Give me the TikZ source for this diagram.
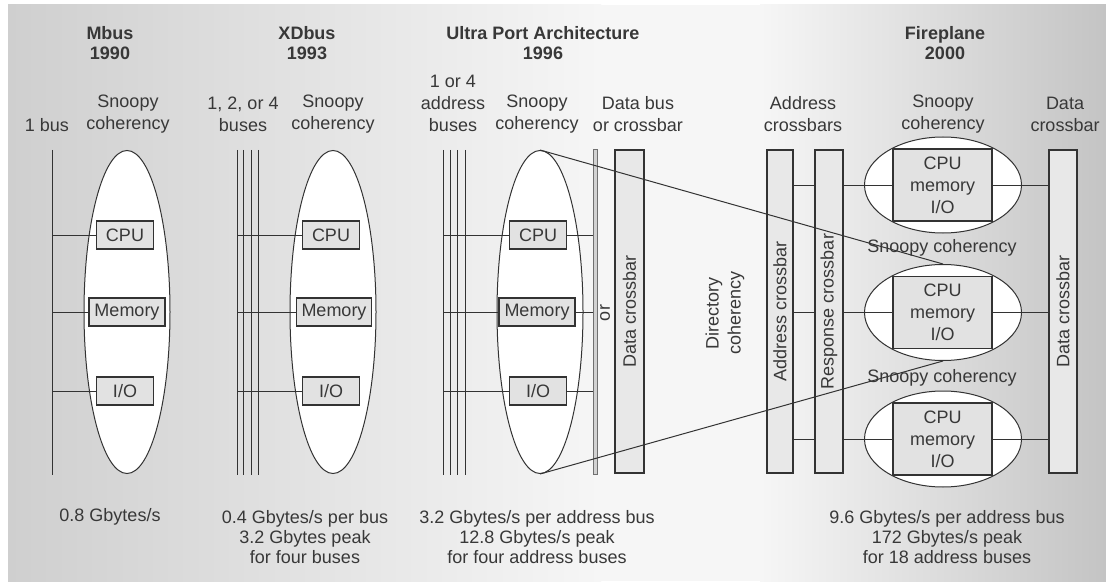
\documentclass[tikz,border=0pt]{standalone}
\usepackage{fontspec}
\setmainfont{Liberation Sans}
\usetikzlibrary{shapes.geometric}
\definecolor{ink}{HTML}{333333}
\definecolor{txt}{HTML}{383838}
\definecolor{boxfill}{HTML}{E2E2E2}
\definecolor{barfill}{HTML}{E8E8E8}
\definecolor{bgL}{HTML}{CFCFCF}
\definecolor{bgM}{HTML}{F6F6F6}
\definecolor{bgR}{HTML}{C4C4C4}
\begin{document}
\begin{tikzpicture}[x=1pt,y=-1pt,
  every node/.style={text=txt, font=\fontsize{18}{22}\selectfont, inner sep=0pt},
  lbl/.style={align=center},
  ttl/.style={align=center, font=\bfseries\fontsize{18}{20}\selectfont},
  snoop/.style={ellipse, draw=ink, fill=white, line width=1pt, minimum width=86pt, minimum height=323pt},
  fsnoop/.style={ellipse, draw=ink, fill=white, line width=1pt, minimum width=157pt, minimum height=96pt},
  unitbox/.style={draw=ink, fill=boxfill, line width=1.3pt, minimum height=28pt},
  nodebox/.style={draw=ink, fill=boxfill, line width=1.3pt, minimum width=99pt, minimum height=72pt, align=center},
  xbar/.style={draw=ink, fill=barfill, line width=1.3pt, minimum height=323pt},
  wire/.style={draw=ink, line width=1pt},
]
\useasboundingbox (0,0) rectangle (1106,583);
% background
\fill[white] (0,0) rectangle (1106,583);
\shade[left color=bgL, right color=bgM] (8,5) rectangle (601,581);
\fill[bgM] (600,5) rectangle (761,581);
\shade[left color=bgM, right color=bgR] (760,5) rectangle (1106,581);

% ---------------- Mbus
\coordinate (b1t) at (52,150); \coordinate (b1b) at (52,475);
\draw[wire] (b1t) -- (b1b);
\node[snoop] (e1) at (127,312) {};
\node[unitbox, minimum width=57pt] (cpu1) at (125,235) {CPU};
\node[unitbox, minimum width=76pt] (mem1) at (127,312) {Memory};
\node[unitbox, minimum width=57pt] (io1) at (125,391) {I/O};
\foreach \n in {cpu1,mem1,io1} \draw[wire] (b1t |- \n.west) -- (\n.west);

% ---------------- XDbus
\foreach \x/\k in {237/a,243.5/b,251/c,258/d} {
  \coordinate (b2\k t) at (\x,150); \coordinate (b2\k b) at (\x,475);
  \draw[wire] (b2\k t) -- (b2\k b);
}
\node[snoop] (e2) at (333,312) {};
\node[unitbox, minimum width=57pt] (cpu2) at (331,235) {CPU};
\node[unitbox, minimum width=75pt] (mem2) at (334,312) {Memory};
\node[unitbox, minimum width=57pt] (io2) at (331,391) {I/O};
\foreach \n in {cpu2,mem2,io2} \draw[wire] (b2at |- \n.west) -- (\n.west);

% ---------------- Ultra Port Architecture
\foreach \x/\k in {443/a,450/b,457/c,465/d} {
  \coordinate (b3\k t) at (\x,150); \coordinate (b3\k b) at (\x,475);
  \draw[wire] (b3\k t) -- (b3\k b);
}
\node[snoop] (e3) at (540,312) {};
\node[unitbox, minimum width=57pt] (cpu3) at (538,235) {CPU};
\node[unitbox, minimum width=76pt] (mem3) at (537,312) {Memory};
\node[unitbox, minimum width=57pt] (io3) at (538,391) {I/O};
\foreach \n in {cpu3,mem3,io3} \draw[wire] (b3at |- \n.west) -- (\n.west);
\node[draw=ink!70, fill=gray!35, line width=0.6pt, minimum width=4pt, minimum height=325pt] (db3) at (595,312) {};
\foreach \n in {cpu3,mem3,io3} \draw[wire] (\n.east) -- (db3.west |- \n.east);
\node[xbar, minimum width=29pt] (dx3) at (629.5,311.5) {};

% ---------------- Fireplane
\node[xbar, minimum width=26pt] (ax) at (780,311.5) {};
\node[xbar, minimum width=28pt] (rx) at (829,311.5) {};
\node[xbar, minimum width=28pt] (dxf) at (1063,311.5) {};
\node[fsnoop] (fe1) at (943,185) {};
\node[fsnoop] (fe2) at (943,312.5) {};
\node[fsnoop] (fe3) at (943,439) {};
\node[nodebox] (fb1) at (942.5,185) {CPU\\memory\\I/O};
\node[nodebox] (fb2) at (942.5,312.5) {CPU\\memory\\I/O};
\node[nodebox] (fb3) at (942.5,439) {CPU\\memory\\I/O};
\foreach \n in {fb1,fb2,fb3} {
  \draw[wire] (ax.east |- \n.west) -- (rx.west |- \n.west);
  \draw[wire] (rx.east |- \n.west) -- (\n.west);
  \draw[wire] (\n.east) -- (dxf.west |- \n.east);
}

% directory coherency funnel
\draw[wire] (e3.north) -- (fe2.north);
\draw[wire] (e3.south) -- (fe2.south);

% rotated labels
\node[rotate=90] (dx3l) at (dx3) {Data crossbar};
\node[rotate=90] (orl) at (605,313) {or};
\node[rotate=90, lbl] (dirl) at (725,313) {Directory\\coherency};
\node[rotate=90] (axl) at (ax) {Address crossbar};
\node[rotate=90] (rxl) at (rx) {Response crossbar};
\node[rotate=90] (dxfl) at (dxf) {Data crossbar};
\node (sc1) at (942,248) {Snoopy coherency};
\node (sc2) at (942,378) {Snoopy coherency};

% titles
\node[ttl] (t1) at (110,43) {Mbus\\1990};
\node[ttl] (t2) at (307,43) {XDbus\\1993};
\node[ttl] (t3) at (543,43) {Ultra Port Architecture\\1996};
\node[ttl] (t4) at (945,43) {Fireplane\\2000};

% headers
\node (h1) at (47,125) {1 bus};
\node[lbl] (h2) at (128,114) {Snoopy\\coherency};
\node[lbl] (h3) at (243,114) {1, 2, or 4\\buses};
\node[lbl] (h4) at (333,114) {Snoopy\\coherency};
\node[lbl] (h5) at (453,103) {1 or 4\\address\\buses};
\node[lbl] (h6) at (537,114) {Snoopy\\coherency};
\node[lbl] (h7) at (638,114) {Data bus\\or crossbar};
\node[lbl] (h8) at (803,114) {Address\\crossbars};
\node[lbl] (h9) at (943,114) {Snoopy\\coherency};
\node[lbl] (h10) at (1065,114) {Data\\crossbar};

% bandwidth
\node (f1) at (110,517) {0.8 Gbytes/s};
\node[lbl, font=\fontsize{18}{20}\selectfont] (f2) at (305,537) {0.4 Gbytes/s per bus\\3.2 Gbytes peak\\for four buses};
\node[lbl, font=\fontsize{18}{20}\selectfont] (f3) at (537,537) {3.2 Gbytes/s per address bus\\12.8 Gbytes/s peak\\for four address buses};
\node[lbl, font=\fontsize{18}{20}\selectfont] (f4) at (947,537) {9.6 Gbytes/s per address bus\\172 Gbytes/s peak\\for 18 address buses};
\end{tikzpicture}
\end{document}
